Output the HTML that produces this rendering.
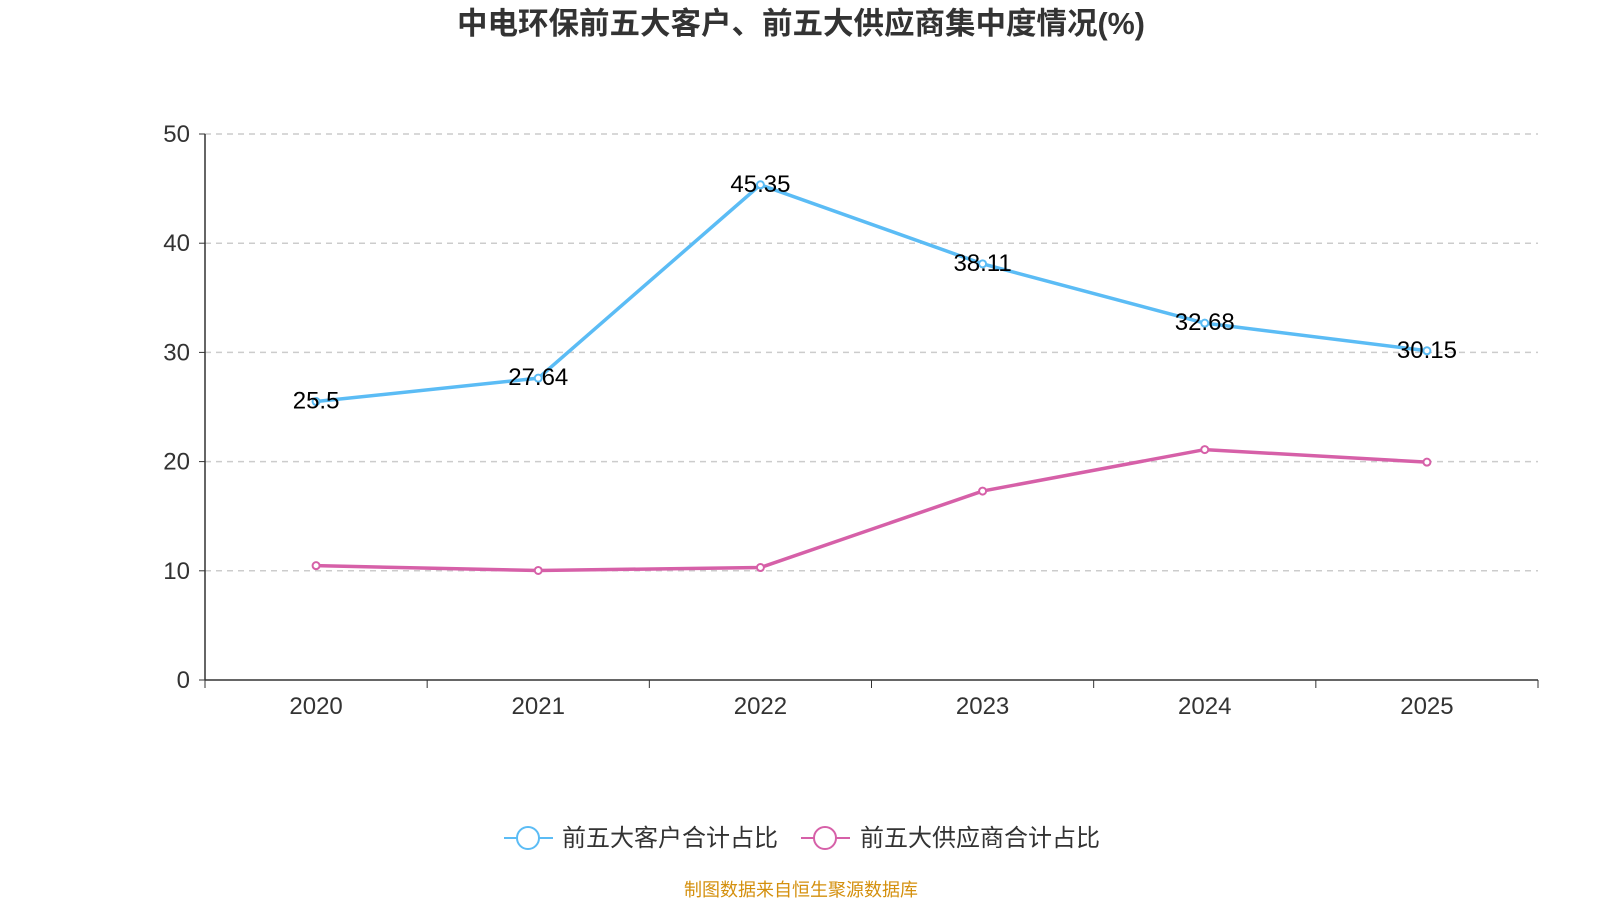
<!DOCTYPE html>
<html><head><meta charset="utf-8"><style>
body{margin:0;background:#fff;width:1600px;height:900px;overflow:hidden;font-family:"Liberation Sans","Noto Sans CJK SC",sans-serif}
</style></head><body>
<svg id="c" width="1600" height="900" xmlns="http://www.w3.org/2000/svg">
<text x="801" y="34" text-anchor="middle" font-size="30.5" font-weight="bold" fill="#333" font-family="Liberation Sans, Noto Sans CJK SC, sans-serif">中电环保前五大客户、前五大供应商集中度情况(%)</text>
<g id="grid"></g><g id="axes"></g><g id="series"></g>
<g>
<line x1="504" y1="838" x2="553" y2="838" stroke="#5bbcf5" stroke-width="2"/>
<circle cx="528" cy="838" r="11" fill="#fff" stroke="#5bbcf5" stroke-width="2"/>
<text x="562" y="846" font-size="24" fill="#333" font-family="Liberation Sans, Noto Sans CJK SC, sans-serif">前五大客户合计占比</text>
<line x1="801" y1="838" x2="850" y2="838" stroke="#d660a8" stroke-width="2"/>
<circle cx="825" cy="838" r="11" fill="#fff" stroke="#d660a8" stroke-width="2"/>
<text x="860" y="846" font-size="24" fill="#333" font-family="Liberation Sans, Noto Sans CJK SC, sans-serif">前五大供应商合计占比</text>
</g>
<text x="801" y="896" text-anchor="middle" font-size="18" fill="#d4900e" font-family="Liberation Sans, Noto Sans CJK SC, sans-serif">制图数据来自恒生聚源数据库</text>
</svg>
<script>
const categories=["2020","2021","2022","2023","2024","2025"];
const customers=[25.5,27.64,45.35,38.11,32.68,30.15];
const suppliers=[10.47,10.03,10.3,17.3,21.1,19.95];
const yTicks=[0,10,20,30,40,50];
const NS="http://www.w3.org/2000/svg";
const L=205,R=1538,T=134,B=680,yMax=50;
const xs=i=>L+(R-L)/categories.length*(i+0.5);
const ys=v=>B-(B-T)*v/yMax;
function mk(tag,attrs,parent){const e=document.createElementNS(NS,tag);for(const k in attrs)e.setAttribute(k,attrs[k]);parent.appendChild(e);return e;}
const g=document.getElementById('grid'),ax=document.getElementById('axes'),s=document.getElementById('series');
const font="Liberation Sans, Noto Sans CJK SC, sans-serif";
yTicks.forEach(t=>{
 if(t>0){const l=mk('line',{x1:L,x2:R,y1:ys(t),y2:ys(t),stroke:'#ccc','stroke-dasharray':'6,5','stroke-width':1.5},g);
 
 }
 mk('line',{x1:L-6,x2:L,y1:ys(t),y2:ys(t),stroke:'#333'},ax);
 const tx=mk('text',{x:L-15,y:ys(t)+8,'text-anchor':'end','font-size':24,fill:'#333','font-family':font},ax);
 tx.textContent=t;
 
 
});
mk('line',{x1:L,x2:L,y1:T,y2:B,stroke:'#333','stroke-width':1.5},ax);
mk('line',{x1:L,x2:R,y1:B,y2:B,stroke:'#333','stroke-width':1.5},ax);
for(let i=0;i<=categories.length;i++){const x=L+(R-L)/categories.length*i;mk('line',{x1:x,x2:x,y1:B,y2:B+8,stroke:'#333'},ax);}
categories.forEach((c,i)=>{const tx=mk('text',{x:xs(i),y:B+34,'text-anchor':'middle','font-size':24,fill:'#333','font-family':font},ax);
 tx.textContent=c;
 
 });
function series(vals,color,name,labels){
 const p=mk('polyline',{points:vals.map((v,i)=>xs(i)+','+ys(v)).join(' '),fill:'none',stroke:color,'stroke-width':3.5},s);
 
 
 vals.forEach((v,i)=>{const c=mk('circle',{cx:xs(i),cy:ys(v),r:3.5,fill:'#fff',stroke:color,'stroke-width':2},s);
  
  
  if(labels){const t=mk('text',{x:xs(i),y:ys(v)+7,'text-anchor':'middle','font-size':24,fill:'#000','font-family':font},s);
   t.textContent=v;
   
   }
 });
}
series(suppliers,'#d660a8','suppliers',false);
series(customers,'#5bbcf5','customers',true);
</script>
</body></html>
